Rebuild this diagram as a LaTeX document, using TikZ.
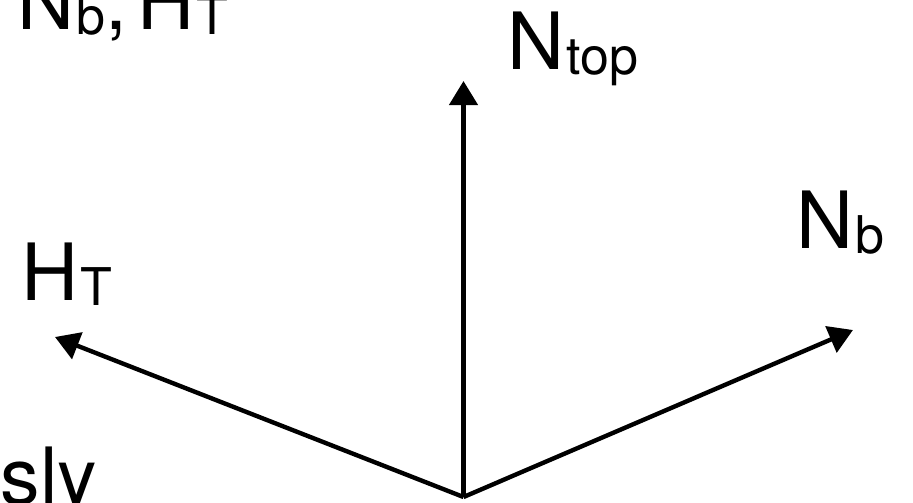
\documentclass[tikz,border=0pt]{standalone}
\usepackage{fontspec}
\setmainfont{TeX Gyre Heros}
\usetikzlibrary{arrows.meta}
\newcommand\sublab[2]{#1\kern2pt\raisebox{-5pt}{\fontsize{52}{52}\selectfont #2}}
\tikzset{
  vec/.style={line width=4.4pt, -{Triangle[length=24pt,width=28pt]}},
  lbl/.style={inner sep=0pt, anchor=base west, font=\fontsize{79}{79}\selectfont}
}
\begin{document}
\begin{tikzpicture}[x=1pt,y=-1pt]
\useasboundingbox (0,0) rectangle (913,503);
\clip (0,0) rectangle (913,503);
\coordinate (o) at (463.5,497);
\coordinate (tipTop) at (463.5,81);
\coordinate (tipH) at (55,337);
\coordinate (tipN) at (853,330);
\draw[vec] (o) -- (tipTop);
\draw[vec] (o) -- (tipH);
\draw[vec] (o) -- (tipN);
\node[lbl] (ntop) at (507,70) {\sublab{N}{top}};
\node[lbl] (nb) at (796,248) {\sublab{N}{b}};
\node[lbl] (ht) at (21,300) {\sublab{H}{T}};
\node[lbl] (head) at (17,30) {\sublab{N}{b},\hspace{10pt}\sublab{H}{T}};
\node[lbl, anchor=base east] (usly) at (97,504) {usly};
\end{tikzpicture}
\end{document}
